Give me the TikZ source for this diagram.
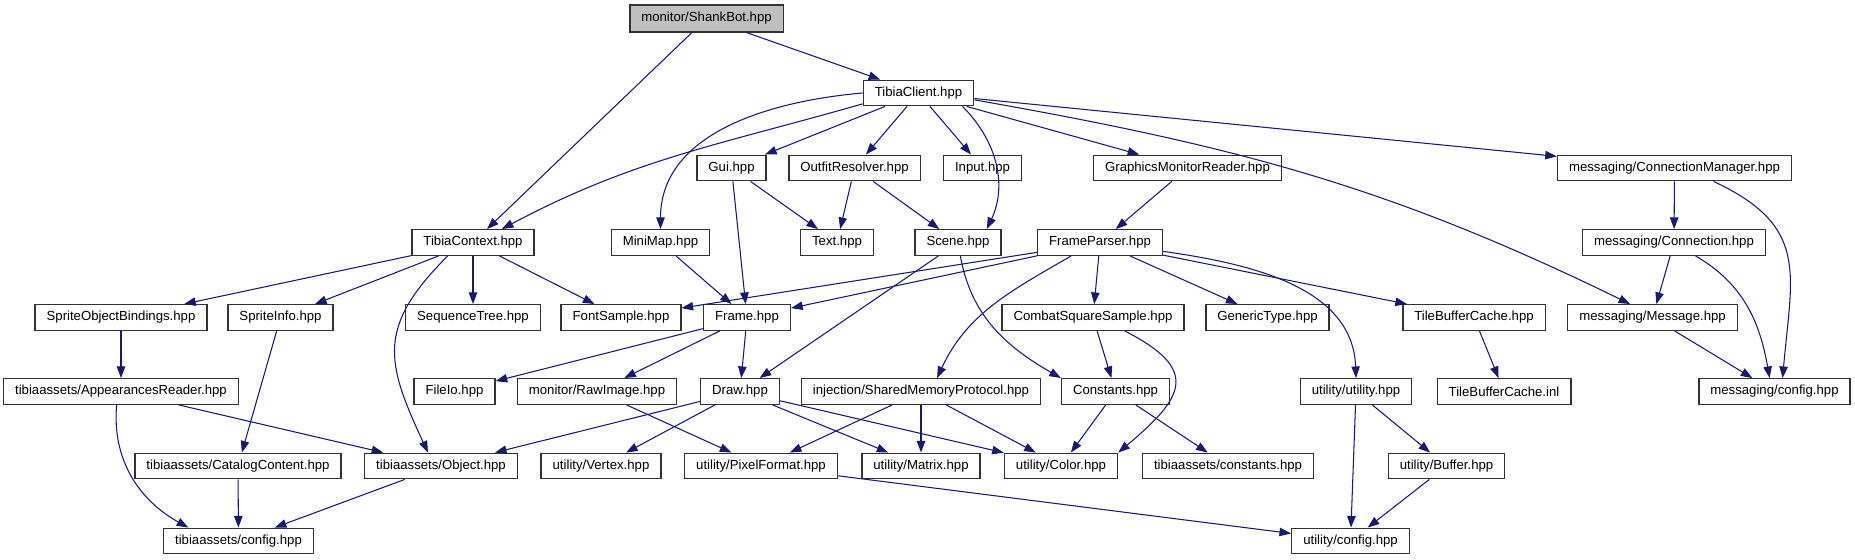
\documentclass[tikz,border=0pt]{standalone}
\usepackage{fontspec}
\setmainfont{Liberation Sans}
\usetikzlibrary{arrows.meta}
\definecolor{edgeblue}{RGB}{25,25,112}
\definecolor{rootgray}{RGB}{191,191,191}

\begin{document}
\begin{tikzpicture}[x=0.02cm,y=0.02cm,
  hdr/.style={draw=black!80,line width=0.8pt,fill=white,minimum height=0.51cm,
    inner ysep=0pt,inner xsep=0.23cm,font=\fontsize{7.5}{9}\selectfont},
  dep/.style={edgeblue,line width=0.6pt,-{Triangle[length=6.6pt,width=4.8pt]}}]
\useasboundingbox (0,0) rectangle (1855,-560);
  \node[hdr,fill=rootgray,minimum height=0.54cm] (shank) at (706.5,-18.5) {monitor/ShankBot.hpp};
  \node[hdr] (client) at (918.5,-93) {TibiaClient.hpp};
  \node[hdr] (gui) at (731.5,-168) {Gui.hpp};
  \node[hdr] (outfit) at (854.5,-168) {OutfitResolver.hpp};
  \node[hdr] (input) at (982.5,-168) {Input.hpp};
  \node[hdr] (gmr) at (1187.5,-168) {GraphicsMonitorReader.hpp};
  \node[hdr] (connmgr) at (1674.5,-168) {messaging/ConnectionManager.hpp};
  \node[hdr] (context) at (473,-242.5) {TibiaContext.hpp};
  \node[hdr] (minimap) at (660.5,-242.5) {MiniMap.hpp};
  \node[hdr] (text) at (837,-242.5) {Text.hpp};
  \node[hdr] (scene) at (958,-242.5) {Scene.hpp};
  \node[hdr] (fparser) at (1100,-242.5) {FrameParser.hpp};
  \node[hdr] (conn) at (1674,-242.5) {messaging/Connection.hpp};
  \node[hdr] (sob) at (121,-317.5) {SpriteObjectBindings.hpp};
  \node[hdr] (sinfo) at (280.5,-317.5) {SpriteInfo.hpp};
  \node[hdr] (seqtree) at (473,-317.5) {SequenceTree.hpp};
  \node[hdr] (fontsample) at (621,-317.5) {FontSample.hpp};
  \node[hdr] (frame) at (747,-317.5) {Frame.hpp};
  \node[hdr] (combat) at (1093,-317.5) {CombatSquareSample.hpp};
  \node[hdr] (generic) at (1267.5,-317.5) {GenericType.hpp};
  \node[hdr] (tbc) at (1474,-317.5) {TileBufferCache.hpp};
  \node[hdr] (message) at (1652.5,-317.5) {messaging/Message.hpp};
  \node[hdr] (appreader) at (121,-391.5) {tibiaassets/AppearancesReader.hpp};
  \node[hdr] (fileio) at (454.5,-391.5) {FileIo.hpp};
  \node[hdr] (rawimage) at (597,-391.5) {monitor/RawImage.hpp};
  \node[hdr] (draw) at (740,-391.5) {Draw.hpp};
  \node[hdr] (shm) at (921,-391.5) {injection/SharedMemoryProtocol.hpp};
  \node[hdr] (constants) at (1115.5,-391.5) {Constants.hpp};
  \node[hdr] (util) at (1356,-391.5) {utility/utility.hpp};
  \node[hdr] (tbcinl) at (1504,-391.5) {TileBufferCache.inl};
  \node[hdr] (msgcfg) at (1774.5,-391.5) {messaging/config.hpp};
  \node[hdr] (catalog) at (238,-466) {tibiaassets/CatalogContent.hpp};
  \node[hdr] (object) at (441,-466) {tibiaassets/Object.hpp};
  \node[hdr] (vertex) at (601,-466) {utility/Vertex.hpp};
  \node[hdr] (pixfmt) at (761,-466) {utility/PixelFormat.hpp};
  \node[hdr] (matrix) at (921,-466) {utility/Matrix.hpp};
  \node[hdr] (color) at (1061,-466) {utility/Color.hpp};
  \node[hdr] (taconst) at (1228,-466) {tibiaassets/constants.hpp};
  \node[hdr] (buffer) at (1446.5,-466) {utility/Buffer.hpp};
  \node[hdr] (tacfg) at (238.5,-541) {tibiaassets/config.hpp};
  \node[hdr] (utilcfg) at (1350.5,-541) {utility/config.hpp};
  \foreach \a/\b in {shank/context, shank/client, client/gui, client/outfit, client/input,
      client/gmr, client/connmgr, context/sob, context/sinfo, context/seqtree,
      context/fontsample, gui/text, gui/frame, outfit/text, outfit/scene, gmr/fparser,
      connmgr/conn, minimap/frame, scene/draw, fparser/fontsample, fparser/frame,
      fparser/combat, fparser/generic, fparser/tbc, conn/message, sob/appreader,
      sinfo/catalog, frame/fileio, frame/rawimage, frame/draw, combat/constants,
      tbc/tbcinl, message/msgcfg, appreader/object, rawimage/pixfmt, draw/object,
      draw/vertex, draw/matrix, draw/color, shm/pixfmt, shm/matrix, shm/color,
      constants/color, constants/taconst, util/utilcfg, util/buffer, catalog/tacfg,
      object/tacfg, pixfmt/utilcfg, buffer/utilcfg}
    \draw[dep] (\a) -- (\b);
  \draw[dep] (client.191) to[out=196,in=28] (context.25);
  \draw[dep] (client.west) to[out=185,in=90] (minimap.north);
  \draw[dep] (client.-17) to[out=-45,in=65] (scene.25);
  \draw[dep] (client.-7) to[out=-10,in=154] (message.149);
  \draw[dep] (context.208) to[out=225,in=115,looseness=1.3] (object.134);
  \draw[dep] (scene.-80) to[out=-80,in=150] (constants.north west);
  \draw[dep] (fparser.205) to[out=210,in=65] (shm.40);
  \draw[dep] (fparser.-8) to[out=-8,in=92] (util.north);
  \draw[dep] (connmgr.-19) to[out=-25,in=85,looseness=1.3] (msgcfg.59);
  \draw[dep] (conn.-32) to[out=-30,in=100] (msgcfg.110);
  \draw[dep] (combat.-23) to[out=-27,in=40,looseness=1.8] (color.north east);
  \draw[dep] (appreader.-108) to[out=-95,in=151] (tacfg.165);
\end{tikzpicture}
\end{document}
